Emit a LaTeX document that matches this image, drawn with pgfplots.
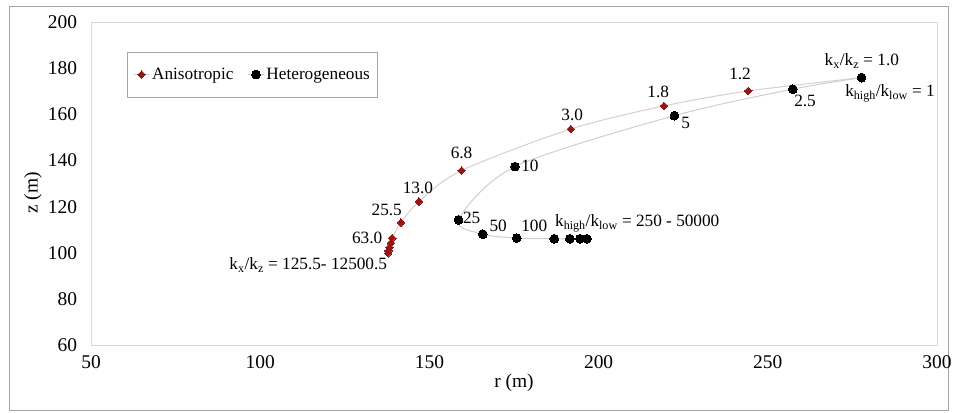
\documentclass[border=0pt]{standalone}
\usepackage{pgfplots}
\pgfplotsset{compat=1.18}
\usepackage{fontspec}
\setmainfont{Liberation Serif}

\definecolor{anisored}{RGB}{150,22,22}
\definecolor{anisoline}{RGB}{222,204,204}
\definecolor{heteroline}{RGB}{206,206,206}
\definecolor{framegray}{RGB}{165,165,165}
\definecolor{plotgray}{RGB}{217,217,217}

\newcommand\ks[1]{k\textsubscript{#1}}
\newcommand\ann{\fontsize{17.3}{20}\selectfont}
\newcommand\tickfont{\fontsize{19.5}{22}\selectfont}

% r and z positions of the plume tip for each permeability case
\pgfplotstableread{
r      z
277.7  176.0
244.2  170.2
219.3  163.7
191.8  153.7
159.5  135.7
146.9  122.2
141.6  113.1
139.0  106.4
138.6  104.2
138.2  102.3
137.9  100.8
137.8  99.8
}\aniso
\pgfplotstableread{
r      z
277.7  176.0
257.4  171.0
222.4  159.5
175.3  137.4
158.6  114.3
165.8  108.1
175.8  106.4
186.9  106.1
191.5  106.1
194.5  106.1
196.5  106.1
}\hetero

\begin{document}
\begin{tikzpicture}[x=1bp,y=1bp]
\useasboundingbox (0,0) rectangle (953,412);
\draw[framegray, line width=1bp] (9,2) rectangle (948,405);
\begin{axis}[
  at={(91bp,67bp)}, anchor=south west,
  scale only axis, width=846bp, height=322.7bp,
  xmin=50, xmax=300, ymin=60, ymax=200,
  xtick={50,100,...,300}, ytick={60,80,...,200},
  major tick length=0pt,
  axis line style={plotgray, line width=0.8bp},
  /pgf/number format/assume math mode=true,
  ticklabel style={font=\tickfont},
  xticklabel style={yshift=-7bp},
  yticklabel style={xshift=-10.5bp},
  xlabel={r (m)}, ylabel={z (m)},
  label style={font=\tickfont},
  xlabel style={at={(axis description cs:0.5,-0.1178)}, anchor=center},
  ylabel style={at={(axis description cs:-0.0686,0.471)}, anchor=center},
  clip=false,
  legend columns=2,
  legend image code/.code={%
    \draw[mark repeat=2,mark phase=2,#1]
      plot coordinates {(0bp,0bp) (8bp,0bp) (16bp,0bp)};},
  legend style={at={(rel axis cs:0.0422,0.909)}, anchor=north west,
    draw=framegray, line width=0.8bp, font=\ann,
    inner xsep=6bp, inner ysep=14bp,
    /tikz/every even column/.append style={column sep=12bp}},
]
\addplot[anisoline, line width=1bp, smooth,
  mark=square*, mark size=2.7bp,
  mark options={rotate=45, fill=anisored, draw=anisored, line width=0pt}]
  table[x=r, y=z] {\aniso};
\addlegendentry{Anisotropic}
\addplot[heteroline, line width=1bp, smooth,
  mark=*, mark size=4.4bp,
  mark options={fill=black, draw=black, line width=0pt}]
  table[x=r, y=z] {\hetero};
\addlegendentry{Heterogeneous}

\begin{scope}[every node/.style={font=\ann, inner sep=0pt}]
% anisotropy ratios
\node[anchor=base] at (axis cs:277.8,181.2) {\ks{x}/\ks{z} = 1.0};
\node[anchor=base] at (axis cs:241.8,175.3) {1.2};
\node[anchor=base] at (axis cs:217.6,167.3) {1.8};
\node[anchor=base] at (axis cs:192.2,157.2) {3.0};
\node[anchor=base] at (axis cs:159.5,141.0) {6.8};
\node[anchor=base] at (axis cs:146.6,125.9) {13.0};
\node[anchor=base] at (axis cs:137.4,116.0) {25.5};
\node[anchor=base] at (axis cs:131.6,104.2) {63.0};
\node[anchor=base] at (axis cs:114.2,92.6) {\ks{x}/\ks{z} = 125.5- 12500.5};
% heterogeneity ratios
\node[anchor=base east] at (axis cs:299.4,167.8) {\ks{high}/\ks{low} = 1};
\node[anchor=base] at (axis cs:261.0,163.4) {2.5};
\node[anchor=base] at (axis cs:225.7,154.1) {5};
\node[anchor=base west] at (axis cs:177.1,135.2) {10};
\node[anchor=base west] at (axis cs:159.9,112.6) {25};
\node[anchor=base west] at (axis cs:167.7,109.2) {50};
\node[anchor=base west] at (axis cs:177.1,109.2) {100};
\node[anchor=base west] at (axis cs:187.1,111.4) {\ks{high}/\ks{low} = 250 - 50000};
\end{scope}
\end{axis}
\end{tikzpicture}
\end{document}
